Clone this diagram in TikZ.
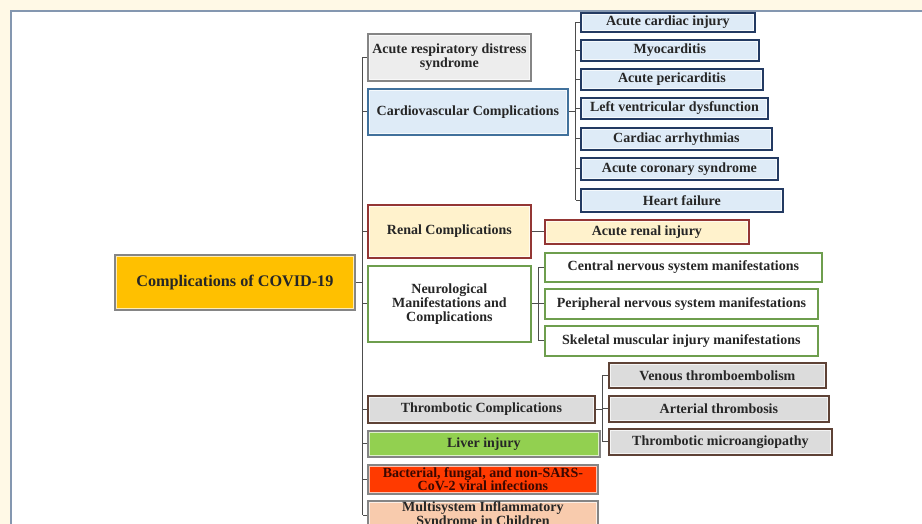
\documentclass[tikz,border=0pt]{standalone}
\usepackage{fontspec}
\setmainfont{Liberation Serif}
\newcommand\bxfont{\fontsize{14}{14}\selectfont\bfseries}
\newcommand\rtfont{\fontsize{16.2}{18}\selectfont\bfseries}
\definecolor{cream}{HTML}{FFF9E6}
\definecolor{framec}{HTML}{8497B0}
\definecolor{conn}{HTML}{4D4D4D}
\definecolor{txt}{HTML}{262626}
\definecolor{rootfill}{HTML}{FFC000}
\definecolor{grayb}{HTML}{858585}
\definecolor{ardsfill}{HTML}{EDEDED}
\definecolor{bluefill}{HTML}{DEEBF7}
\definecolor{blueb}{HTML}{41719C}
\definecolor{navyb}{HTML}{233A62}
\definecolor{renfill}{HTML}{FFF2CC}
\definecolor{renb}{HTML}{943634}
\definecolor{greenb}{HTML}{6E9E4E}
\definecolor{thfill}{HTML}{DCDCDC}
\definecolor{thb}{HTML}{5E4236}
\definecolor{liverfill}{HTML}{92D050}
\definecolor{bactfill}{HTML}{FF3A00}
\definecolor{bacttxt}{HTML}{3A0800}
\definecolor{misfill}{HTML}{F8CBAD}
\tikzset{
  box/.style={draw, line width=1.8pt, inner sep=0pt, align=center,
    anchor=north west, font=\bxfont, text=txt,
    path picture={\draw[white, opacity=0.7, line width=0.9pt]
      ([shift={(1.9pt,-1.9pt)}]path picture bounding box.north west) rectangle
      ([shift={(-1.9pt,1.9pt)}]path picture bounding box.south east);}},
  link/.style={draw=conn, line width=1.1pt},
}
\begin{document}
\begin{tikzpicture}[x=1pt, y=-1pt]
\useasboundingbox (0,0) rectangle (922,524);
\clip (0,0) rectangle (922,524);
\fill[cream] (0,0) rectangle (922,524);
\fill[white] (11,11) rectangle (940,540);
\draw[framec, line width=2pt] (11,540) -- (11,11) -- (940,11);

% root
\node[box, fill=rootfill, draw=grayb, font=\rtfont, minimum width=240pt, minimum height=55pt] (root) at (114,254) {Complications of COVID-19};

% level 1
\node[box, fill=ardsfill, draw=grayb, minimum width=163pt, minimum height=47pt] (ards) at (367,33) {Acute respiratory distress\\syndrome};
\node[box, fill=bluefill, draw=blueb, minimum width=200pt, minimum height=46pt] (cardio) at (367,88) {Cardiovascular Complications};
\node[box, fill=renfill, draw=renb, minimum width=163pt, minimum height=53pt] (renal) at (367,204) {Renal Complications};
\node[box, fill=white, draw=greenb, minimum width=163pt, minimum height=76pt] (neuro) at (367,265) {Neurological\\Manifestations and\\Complications};
\node[box, fill=thfill, draw=thb, minimum width=227pt, minimum height=27pt] (thromb) at (367,395) {Thrombotic Complications};
\node[box, fill=liverfill, draw=grayb, minimum width=232pt, minimum height=26pt] (liver) at (367,430) {Liver injury};
\node[box, fill=bactfill, draw=grayb, text=bacttxt, font=\fontsize{14}{13}\selectfont\bfseries, minimum width=230pt, minimum height=29pt] (bact) at (367,464) {Bacterial, fungal, and non-SARS-\\CoV-2 viral infections};
\node[box, fill=misfill, draw=grayb, minimum width=230pt, minimum height=29pt] (mis) at (367,500) {Multisystem Inflammatory\\Syndrome in Children};

% cardiovascular children
\node[box, fill=bluefill, draw=navyb, minimum width=174pt, minimum height=19pt] (c1) at (580,12) {Acute cardiac injury};
\node[box, fill=bluefill, draw=navyb, minimum width=178pt, minimum height=21pt] (c2) at (580,39) {Myocarditis};
\node[box, fill=bluefill, draw=navyb, minimum width=182pt, minimum height=21pt] (c3) at (580,68) {Acute pericarditis};
\node[box, fill=bluefill, draw=navyb, minimum width=187pt, minimum height=21pt] (c4) at (580,97) {Left ventricular dysfunction};
\node[box, fill=bluefill, draw=navyb, minimum width=191pt, minimum height=22pt] (c5) at (580,127) {Cardiac arrhythmias};
\node[box, fill=bluefill, draw=navyb, minimum width=197pt, minimum height=22pt] (c6) at (580,157) {Acute coronary syndrome};
\node[box, fill=bluefill, draw=navyb, minimum width=202pt, minimum height=23pt] (c7) at (580,188) {Heart failure};

% renal child
\node[box, fill=renfill, draw=renb, minimum width=204pt, minimum height=24pt] (ari) at (544,219) {Acute renal injury};

% neuro children
\node[box, fill=white, draw=greenb, minimum width=277pt, minimum height=29pt] (n1) at (544,252) {Central nervous system manifestations};
\node[box, fill=white, draw=greenb, minimum width=273pt, minimum height=30pt] (n2) at (544,288) {Peripheral nervous system manifestations};
\node[box, fill=white, draw=greenb, minimum width=273pt, minimum height=30pt] (n3) at (544,325) {Skeletal muscular injury manifestations};

% thrombotic children
\node[box, fill=thfill, draw=thb, minimum width=217pt, minimum height=25pt] (t1) at (608,362) {Venous thromboembolism};
\node[box, fill=thfill, draw=thb, minimum width=220pt, minimum height=26pt] (t2) at (608,395) {Arterial thrombosis};
\node[box, fill=thfill, draw=thb, minimum width=223pt, minimum height=26pt] (t3) at (608,428) {Thrombotic microangiopathy};

% connectors: trunk
\draw[link] (root.east) -- ++(7,0) coordinate (tr);
\draw[link] (tr |- ards.west) -- (tr |- mis.west);
\foreach \n in {ards,cardio,renal,neuro,thromb,liver,bact,mis}
  \draw[link] (tr |- \n.west) -- (\n.west);

% cardiovascular
\draw[link] (cardio.east) -- ++(7,0) coordinate (cv);
\draw[link] (cv |- c1.west) -- (cv |- c7.west);
\foreach \n in {c1,c2,c3,c4,c5,c6,c7}
  \draw[link] (cv |- \n.west) -- (\n.west);

% renal
\draw[link] (renal.east) -- (renal.east -| ari.west);

% neuro
\draw[link] (neuro.east) -- ++(7,0) coordinate (nv);
\draw[link] (nv |- n1.west) -- (nv |- n3.west);
\foreach \n in {n1,n2,n3}
  \draw[link] (nv |- \n.west) -- (\n.west);

% thrombotic
\draw[link] (thromb.east) -- ++(7,0) coordinate (tv);
\draw[link] (tv |- t1.west) -- (tv |- t3.west);
\foreach \n in {t1,t2,t3}
  \draw[link] (tv |- \n.west) -- (\n.west);
\end{tikzpicture}
\end{document}
